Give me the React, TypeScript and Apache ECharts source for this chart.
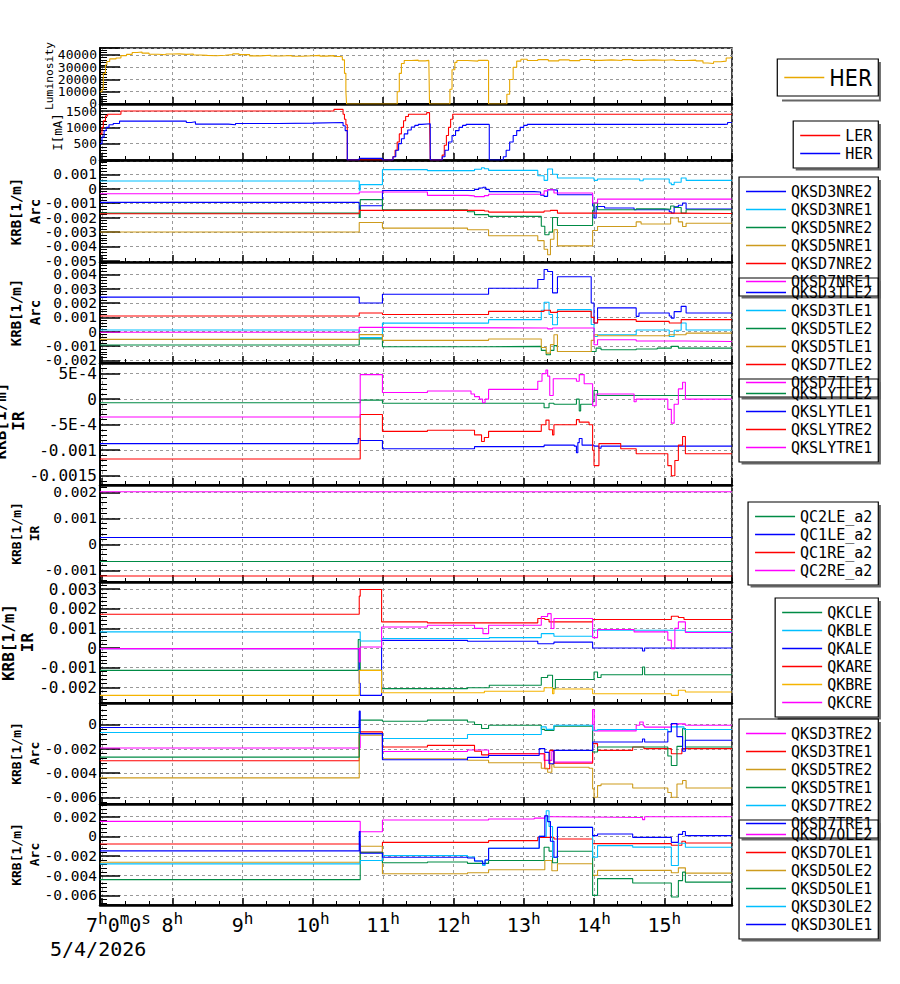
import React, { useEffect, useRef } from 'react';
import * as echarts from 'echarts';

// Time axis in hours of 5/4/2026 (7 = 07:00).
const T_MIN = 6.972;
const T_MAX = 15.963;
const HOUR_TICKS = [7, 8, 9, 10, 11, 12, 13, 14, 15];

// Luminosity (HER)
const luminosityHER = [
  [6.97, 10000], [7.0, 12000], [7.02, 25000], [7.05, 32000], [7.07, 34700], [7.11, 36800], [7.2, 37600],
  [7.27, 39500], [7.35, 40500], [7.43, 42000], [7.5, 42500], [7.57, 41500], [7.67, 40600], [7.8, 40200],
  [7.91, 40800], [8.0, 40900], [8.1, 40500], [8.2, 40800], [8.3, 40000], [8.39, 39700], [8.5, 39400],
  [8.63, 39800], [8.75, 40300], [8.86, 40900], [8.95, 40300], [9.1, 39300], [9.25, 39800], [9.4, 39200],
  [9.55, 39600], [9.7, 39000], [9.85, 39400], [10.0, 39700], [10.1, 39100], [10.2, 39500], [10.3, 38800],
  [10.38, 38500], [10.42, 36000], [10.45, 25000], [10.47, 10000], [10.48, 0], [11.18, 0], [11.2, 10000],
  [11.23, 25000], [11.26, 33000], [11.3, 35500], [11.4, 35800], [11.5, 35200], [11.6, 35600], [11.65, 35000],
  [11.66, 0], [11.92, 0], [11.95, 12000], [11.98, 28000], [12.02, 34000], [12.05, 35500], [12.2, 35000],
  [12.35, 35600], [12.49, 35200], [12.5, 0], [12.72, 0], [12.76, 8000], [12.8, 20000], [12.85, 30000],
  [12.9, 35000], [12.96, 36500], [13.05, 35500], [13.2, 36200], [13.35, 35200], [13.5, 36000], [13.65, 35400],
  [13.8, 36300], [13.95, 35600], [14.1, 36000], [14.25, 35500], [14.4, 36200], [14.55, 35600], [14.7, 36000],
  [14.85, 35700], [15.0, 36100], [15.15, 35500], [15.3, 35800], [15.45, 35200], [15.55, 33500], [15.62, 33000],
  [15.7, 34500], [15.8, 35000], [15.88, 37500], [15.93, 38000], [15.96, 38000],
];

// Beam currents [mA]
const currentLER = [
  [6.97, 800], [7.0, 1000], [7.02, 1200], [7.05, 1350], [7.08, 1400], [7.27, 1500], [10.3, 1550], [10.43, 1400],
  [10.45, 1250], [10.47, 1080], [10.49, 0], [11.14, 100], [11.17, 300], [11.2, 550], [11.23, 800], [11.26, 1000],
  [11.29, 1200], [11.32, 1330], [11.36, 1400], [11.62, 1450], [11.66, 1300], [11.67, 0], [11.84, 150],
  [11.87, 450], [11.9, 750], [11.93, 1000], [11.96, 1250], [11.99, 1400], [15.96, 1400],
];
const currentHER = [
  [6.97, 500], [7.0, 700], [7.03, 900], [7.06, 1000], [7.1, 1080], [7.16, 1120], [7.25, 1190], [8.15, 1190],
  [8.2, 1150], [8.27, 1170], [8.33, 1100], [8.75, 1100], [8.8, 1080], [8.9, 1120], [9.5, 1130], [10.0, 1150],
  [10.43, 1050], [10.46, 900], [10.49, 0], [10.66, 50], [10.99, 0], [11.14, 100], [11.18, 300], [11.22, 500],
  [11.26, 650], [11.3, 800], [11.35, 920], [11.4, 1010], [11.45, 1060], [11.5, 1090], [11.55, 1110], [11.67, 0],
  [11.84, 100], [11.88, 300], [11.93, 550], [11.98, 750], [12.03, 900], [12.08, 1000], [12.13, 1060],
  [12.18, 1090], [12.51, 0], [12.71, 100], [12.75, 300], [12.8, 550], [12.85, 750], [12.9, 900], [12.95, 1000],
  [13.0, 1060], [13.05, 1090], [15.85, 1100], [15.9, 1150], [15.96, 1150],
];

// KRB values below are in units of 1e-3 [1/m].
// Arc, NRE side
const QKSD3NRE2 = [
  [6.97, -0.95], [10.66, -1.46], [10.674, -1.18], [10.99, -0.12], [12.3, -0.05], [12.36, 0.05], [12.42, 0.1],
  [12.46, -0.05], [12.51, -0.2], [13.15, -0.23], [13.24, -0.45], [13.29, -0.53], [13.34, -0.07], [13.41, -0.1],
  [13.48, -0.42], [13.98, -1.2], [14.0, -2.03], [14.03, -1.23], [14.15, -1.34], [14.57, -1.46], [15.07, -1.6],
  [15.1, -1.69], [15.14, -1.25], [15.2, -1.15], [15.26, -0.99], [15.31, -1.41], [15.96, -1.41],
];
const QKSD3NRE1 = [
  [6.97, 0.53], [10.66, -0.1], [10.674, 0.28], [10.99, 1.32], [11.63, 1.25], [12.3, 1.35], [12.4, 1.45],
  [12.44, 1.38], [12.5, 1.27], [13.15, 1.27], [13.2, 0.9], [13.29, 0.58], [13.34, 1.37], [13.41, 1.0],
  [13.48, 0.74], [14.0, 0.58], [14.05, 0.67], [14.6, 0.67], [14.65, 0.55], [14.7, 0.67], [15.07, 0.4],
  [15.1, 0.28], [15.14, 0.45], [15.24, 0.74], [15.31, 0.58], [15.96, 0.58],
];
const QKSD5NRE2 = [
  [6.97, -1.69], [10.66, -2.0], [10.674, -0.76], [10.99, -1.46], [12.2, -1.6], [12.3, -1.8], [12.5, -1.92],
  [13.25, -2.6], [13.3, -3.19], [13.36, -3.0], [13.41, -2.0], [13.48, -2.55], [13.95, -2.55], [13.98, -1.5],
  [14.0, -0.99], [14.05, -1.46], [14.6, -1.4], [15.0, -1.42], [15.09, -1.2], [15.14, -1.3], [15.24, -1.69],
  [15.31, -1.46], [15.96, -1.46],
];
const QKSD5NRE1 = [
  [6.97, -3.0], [10.66, -2.34], [10.99, -2.73], [12.2, -2.85], [12.5, -3.26], [13.2, -3.6], [13.29, -4.2],
  [13.34, -4.58], [13.38, -3.5], [13.43, -2.85], [13.48, -3.96], [13.95, -3.96], [13.98, -2.9], [14.05, -2.62],
  [14.6, -2.3], [14.67, -2.45], [15.09, -2.03], [15.2, -2.3], [15.26, -2.62], [15.31, -2.39], [15.96, -2.39],
];
const QKSD7NRE2 = [
  [6.97, -1.74], [10.66, -1.5], [12.44, -1.55], [12.5, -1.62], [13.29, -1.55], [13.38, -1.5], [13.48, -1.69],
  [15.0, -1.72], [15.96, -1.72],
];
const QKSD7NRE1 = [
  [6.97, -0.35], [10.66, -0.23], [11.63, -0.46], [12.2, -0.5], [12.3, -0.55], [12.44, -0.48], [12.5, -0.38],
  [13.29, -0.15], [13.34, -0.07], [13.43, -0.3], [13.98, -0.99], [14.05, -0.72], [15.96, -0.72],
];

// Arc, TLE side
const QKSD3TLE2 = [
  [6.97, 2.41], [10.66, 2.0], [10.99, 2.61], [12.5, 3.03], [13.2, 3.64], [13.29, 4.34], [13.34, 4.2],
  [13.41, 2.71], [13.48, 3.83], [13.96, 2.0], [14.0, 0.61], [14.05, 1.66], [14.6, 1.07], [14.64, 1.31],
  [15.07, 1.1], [15.1, 0.95], [15.14, 1.4], [15.24, 1.77], [15.31, 1.31], [15.96, 1.31],
];
const QKSD3TLE1 = [
  [6.97, 0.12], [10.66, -0.4], [10.99, 0.6], [12.5, 0.84], [13.25, 1.5], [13.29, 2.05], [13.36, 1.2],
  [13.41, 0.49], [13.48, 1.54], [13.96, 0.5], [14.0, -0.33], [14.05, -0.21], [14.6, 0.12], [15.07, -0.33],
  [15.14, 0.1], [15.24, 0.61], [15.31, 0.12], [15.96, 0.12],
];
const QKSD5TLE2 = [
  [6.97, -0.93], [10.66, -0.5], [10.99, -1.05], [12.5, -1.02], [13.25, -1.3], [13.32, -1.6], [13.38, -1.3],
  [13.43, -0.97], [13.48, -1.38], [14.03, -1.14], [14.1, -1.26], [14.6, -1.2], [14.9, -1.14], [15.1, -1.02],
  [15.2, -1.14], [15.96, -1.14],
];
const QKSD5TLE1 = [
  [6.97, -0.53], [10.66, -0.2], [10.99, -0.6], [12.5, -0.51], [13.25, -1.1], [13.32, -1.49], [13.38, -0.9],
  [13.43, -0.21], [13.48, -1.38], [13.96, -0.6], [14.0, -0.21], [14.05, -0.28], [15.07, -0.21], [15.31, -0.1],
  [15.96, -0.1],
];
const QKSD7TLE2 = [
  [6.97, 1.1], [10.66, 1.3], [10.99, 1.2], [12.5, 1.42], [13.29, 1.5], [13.38, 1.35], [13.48, 1.42],
  [13.96, 1.0], [14.0, 0.61], [14.05, 0.84], [14.6, 0.72], [15.07, 0.61], [15.24, 0.84], [15.96, 0.84],
];
const QKSD7TLE1 = [
  [6.97, -0.04], [10.66, 0.3], [10.99, 0.26], [13.34, 0.2], [13.41, 0.26], [14.0, -0.91], [14.05, -0.56],
  [14.6, -0.65], [15.3, -0.68], [15.96, -0.68],
];

// IR, SLY correctors
const QKSLYTLE2 = [
  [6.97, -0.07], [10.674, -0.02], [10.99, -0.08], [13.29, -0.17], [13.36, -0.08], [13.43, -0.1], [13.75, 0.0],
  [13.79, -0.23], [13.81, -0.1], [13.98, -0.05], [14.0, 0.17], [14.05, 0.07], [15.96, 0.08],
];
const QKSLYTLE1 = [
  [6.97, -0.87], [10.646, -0.77], [10.674, -0.81], [10.99, -0.97], [12.3, -0.93], [13.29, -0.9], [13.72, -0.92],
  [13.75, -1.05], [13.77, -0.85], [13.79, -0.77], [13.83, -0.9], [14.0, -0.92], [14.07, -0.96], [14.1, -0.92],
  [15.96, -0.92],
];
const QKSLYTRE2 = [
  [6.97, -1.17], [10.674, -0.3], [10.99, -0.63], [11.63, -0.61], [12.3, -0.7], [12.4, -0.83], [12.44, -0.75],
  [12.5, -0.63], [13.25, -0.5], [13.316, -0.41], [13.36, -0.6], [13.41, -0.7], [13.43, -0.5], [13.75, -0.4],
  [13.79, -0.45], [13.93, -0.5], [13.98, -1.0], [14.0, -1.3], [14.07, -0.87], [14.38, -0.97], [14.6, -1.07],
  [15.05, -1.3], [15.1, -1.5], [15.15, -1.2], [15.2, -0.9], [15.26, -0.73], [15.3, -1.07], [15.96, -1.07],
];
const QKSLYTRE1 = [
  [6.97, -0.35], [10.674, 0.48], [10.99, 0.13], [11.63, 0.16], [12.25, 0.1], [12.3, 0.05], [12.37, 0.0],
  [12.415, -0.07], [12.45, 0.0], [12.5, 0.19], [13.2, 0.35], [13.26, 0.5], [13.316, 0.57], [13.34, 0.45],
  [13.37, 0.07], [13.42, 0.4], [13.75, 0.35], [13.79, 0.48], [13.86, 0.3], [13.98, -0.13], [14.03, 0.1],
  [14.57, -0.05], [14.6, 0.0], [15.05, -0.2], [15.1, -0.47], [15.14, -0.1], [15.2, 0.2], [15.26, 0.33],
  [15.3, 0.0], [15.96, 0.0],
];

// IR, QC a2 windings
const QC2LE_a2 = [[6.97, -0.66], [15.96, -0.66]];
const QC1LE_a2 = [[6.97, 0.26], [15.96, 0.26]];
const QC1RE_a2 = [[6.97, -1.22], [15.96, -1.22]];
const QC2RE_a2 = [[6.97, 2.02], [15.96, 2.02]];

// IR, QK correctors
const QKCLE = [
  [6.97, -1.14], [10.646, 0.43], [10.674, -1.14], [10.978, -2.07], [12.2, -2.02], [12.51, -1.9], [13.25, -1.5],
  [13.34, -1.39], [13.41, -2.07], [13.45, -1.6], [14.0, -1.22], [14.05, -1.5], [14.1, -1.36], [14.69, -0.97],
  [14.72, -1.36], [15.96, -1.34],
];
const QKBLE = [
  [6.97, 0.82], [10.674, 0.36], [10.978, 0.48], [12.51, 0.53], [13.25, 0.73], [13.43, 0.6], [13.98, 0.9],
  [15.3, 0.82], [15.96, 0.82],
];
const QKALE = [
  [6.97, -0.03], [10.66, -1.8], [10.674, -2.41], [10.978, 0.39], [12.2, 0.34], [13.2, 0.22], [13.43, 0.3],
  [13.98, 0.0], [14.69, -0.15], [14.72, 0.0], [15.96, 0.0],
];
const QKARE = [
  [6.97, 1.72], [10.66, 2.64], [10.674, 2.98], [10.978, 1.33], [11.63, 1.28], [13.2, 1.5], [13.3, 1.45],
  [13.36, 1.33], [13.98, 1.45], [15.1, 1.62], [15.2, 1.55], [15.28, 1.45], [15.96, 1.45],
];
const QKBRE = [
  [6.97, -2.41], [10.66, -1.14], [10.978, -2.28], [12.44, -2.2], [13.29, -2.02], [13.41, -2.33], [13.43, -2.09],
  [13.98, -2.33], [15.1, -2.41], [15.2, -2.15], [15.3, -2.24], [15.96, -2.24],
];
const QKCRE = [
  [6.97, -0.03], [10.66, -0.71], [10.674, 0.05], [10.978, 1.07], [11.63, 1.16], [12.3, 1.0], [12.42, 0.73],
  [12.5, 1.16], [13.25, 1.6], [13.34, 1.75], [13.39, 0.99], [13.43, 1.5], [13.98, 0.53], [14.05, 0.94],
  [14.57, 0.82], [15.05, 0.4], [15.1, -0.03], [15.15, 1.0], [15.2, 1.33], [15.3, 0.79], [15.96, 0.79],
];

// Arc, TRE side
const QKSD3TRE2 = [
  [6.97, -1.94], [10.674, -0.75], [10.99, -2.22], [12.2, -2.1], [12.5, -2.41], [13.29, -2.96], [13.4, -2.22],
  [13.43, -3.1], [13.98, 1.24], [14.003, -0.53], [14.6, -0.06], [14.65, 0.2], [14.7, -0.1], [14.72, -0.22],
  [15.1, 0.05], [15.3, -0.06], [15.96, -0.06],
];
const QKSD3TRE1 = [
  [6.97, -2.99], [10.66, -0.61], [10.99, -1.86], [11.63, -1.72], [12.3, -2.2], [12.4, -2.5], [12.5, -2.41],
  [13.3, -3.65], [13.37, -2.13], [13.43, -3.19], [13.98, -1.58], [14.05, -2.13], [14.55, -1.86], [14.71, -1.99],
  [15.1, -2.41], [15.25, -1.99], [15.96, -1.99],
];
const QKSD5TRE2 = [
  [6.97, -4.4], [10.66, -0.89], [10.99, -2.82], [12.2, -2.95], [12.5, -3.15], [13.25, -3.6], [13.34, -3.93],
  [13.4, -3.3], [13.43, -3.52], [13.93, -3.6], [13.98, -5.3], [14.0, -6.0], [14.05, -5.04], [14.1, -4.9],
  [14.55, -5.23], [15.05, -5.6], [15.1, -6.0], [15.18, -4.9], [15.26, -4.62], [15.31, -5.23], [15.96, -5.23],
];
const QKSD5TRE1 = [
  [6.97, -2.69], [10.66, 0.36], [10.99, 0.27], [11.63, 0.36], [12.2, 0.2], [12.3, 0.0], [12.4, -0.33],
  [12.5, -0.06], [13.25, -0.4], [13.3, -0.5], [13.43, -0.15], [13.98, -2.27], [14.05, -1.86], [15.05, -2.6],
  [15.1, -3.38], [15.18, -1.8], [15.26, -0.33], [15.3, -1.86], [15.96, -1.86],
];
const QKSD7TRE2 = [
  [6.97, -0.66], [10.674, -0.75], [10.99, -1.16], [12.2, -0.83], [13.25, -0.2], [13.32, -0.4], [13.43, -0.06],
  [13.98, -0.47], [14.05, -0.41], [15.05, -0.6], [15.1, -0.2], [15.28, -0.41], [15.96, -0.41],
];
const QKSD7TRE1 = [
  [6.97, -0.25], [10.66, 1.1], [10.674, -0.75], [10.99, -2.9], [12.2, -2.71], [12.5, -2.55], [13.22, -1.99],
  [13.3, -2.3], [13.36, -3.24], [13.43, -2.13], [13.98, -1.44], [14.69, -1.2], [14.72, -1.44], [15.05, -0.6],
  [15.1, 0.08], [15.18, -1.0], [15.26, -2.2], [15.3, -1.3], [15.96, -1.3],
];

// Arc, OLE side
const QKSD7OLE2 = [
  [6.97, 1.52], [10.674, 0.47], [10.99, 1.66], [12.5, 1.76], [13.15, 1.85], [13.3, 2.1], [13.34, 1.99],
  [13.43, 1.92], [14.69, 1.7], [14.72, 1.99], [15.96, 1.99],
];
const QKSD7OLE1 = [
  [6.97, -0.77], [10.674, -1.62], [10.99, -0.61], [12.5, -0.43], [13.2, -0.1], [13.43, -0.27], [13.98, -0.74],
  [15.1, -0.9], [15.25, -0.5], [15.3, -0.67], [15.96, -0.67],
];
const QKSD5OLE2 = [
  [6.97, -2.64], [10.674, -1.01], [10.99, -3.8], [12.2, -3.7], [12.5, -3.39], [13.3, -2.45], [13.4, -3.5],
  [13.48, -2.79], [13.98, -3.97], [14.05, -3.46], [15.1, -3.7], [15.2, -3.2], [15.3, -3.74], [15.96, -3.74],
];
const QKSD5OLE1 = [
  [6.97, -4.4], [10.674, -1.62], [10.99, -2.69], [11.63, -2.6], [12.2, -2.75], [12.5, -2.45], [13.29, -1.11],
  [13.36, -1.5], [13.41, -2.69], [13.48, -1.52], [13.98, -6.0], [14.05, -4.3], [14.55, -4.74], [15.1, -6.16],
  [15.2, -4.5], [15.26, -3.64], [15.3, -4.65], [15.96, -4.65],
];
const QKSD3OLE2 = [
  [6.97, -2.8], [10.674, -2.45], [10.99, -1.95], [12.2, -2.1], [12.3, -2.5], [12.415, -2.96], [12.45, -2.4],
  [12.5, -1.21], [13.22, 0.0], [13.32, 2.6], [13.36, 1.0], [13.41, -2.12], [13.48, 0.91], [13.98, -2.12],
  [14.05, -0.94], [14.55, -1.1], [15.1, -2.96], [15.2, -0.7], [15.3, -1.11], [15.96, -1.11],
];
const QKSD3OLE1 = [
  [6.97, -1.48], [10.66, 0.5], [10.674, -1.72], [10.99, -2.12], [12.2, -2.2], [12.3, -2.5], [12.415, -2.8],
  [12.45, -2.4], [12.5, -1.21], [13.22, 0.0], [13.3, 2.09], [13.34, 1.5], [13.38, -0.5], [13.43, -2.12],
  [13.48, 0.91], [13.98, 0.07], [14.05, 0.24], [14.55, -0.1], [15.1, -0.61], [15.2, 0.2], [15.26, 0.5],
  [15.3, 0.07], [15.96, 0.07],
];

const BLUE = '#0000ff';
const CYAN = '#00bfff';
const GREEN = '#008b45';
const GOLD = '#cd9b1d';
const RED = '#ff0000';
const MAGENTA = '#ff00ff';
const LUMI = '#e8a800';
const ORANGE = '#f5b400';

const MONO = "'DejaVu Sans Mono', monospace";
const NARROW = "'Liberation Sans Narrow', 'DejaVu Sans Condensed', 'DejaVu Sans', sans-serif";

const milli = (pts: number[][]) => pts.map(([t, v]) => [t, v / 1000]);

type Line = [string, number[][], string];
interface Panel {
  top: number; height: number; min: number; max: number; step: number; font: number;
  names: [string, number, number, string][]; nameY?: number; legendTop: number; lines: Line[];
}

const PANELS: Panel[] = [
  {
    top: 48, height: 56, min: -1, max: 45700, step: 10000, font: 13, legendTop: 59,
    names: [['Luminosity', 49, 11.3, 'normal']],
    lines: [['HER', luminosityHER, LUMI]],
  },
  {
    top: 104, height: 56, min: 0, max: 1715, step: 500, font: 13, legendTop: 121,
    names: [['I[mA]', 57, 12.5, 'normal']],
    lines: [['LER', currentLER, RED], ['HER', currentHER, BLUE]],
  },
  {
    top: 161, height: 101, min: -5.08e-3, max: 1.92e-3, step: 1e-3, font: 14.5, legendTop: 177,
    names: [['KRB[1/m]', 16, 14, 'bold'], ['Arc', 34.5, 14, 'bold']],
    lines: [
      ['QKSD3NRE2', milli(QKSD3NRE2), BLUE], ['QKSD3NRE1', milli(QKSD3NRE1), CYAN],
      ['QKSD5NRE2', milli(QKSD5NRE2), GREEN], ['QKSD5NRE1', milli(QKSD5NRE1), GOLD],
      ['QKSD7NRE2', milli(QKSD7NRE2), RED], ['QKSD7NRE1', milli(QKSD7NRE1), MAGENTA],
    ],
  },
  {
    top: 262, height: 101, min: -2.18e-3, max: 4.86e-3, step: 1e-3, font: 14.5, legendTop: 278,
    names: [['KRB[1/m]', 16, 14, 'bold'], ['Arc', 34.5, 14, 'bold']],
    lines: [
      ['QKSD3TLE2', milli(QKSD3TLE2), BLUE], ['QKSD3TLE1', milli(QKSD3TLE1), CYAN],
      ['QKSD5TLE2', milli(QKSD5TLE2), GREEN], ['QKSD5TLE1', milli(QKSD5TLE1), GOLD],
      ['QKSD7TLE2', milli(QKSD7TLE2), RED], ['QKSD7TLE1', milli(QKSD7TLE1), MAGENTA],
    ],
  },
  {
    top: 363, height: 122, min: -1.68e-3, max: 0.707e-3, step: 5e-4, font: 16, legendTop: 379, nameY: 421,
    names: [['KRB[1/m]', 0.5, 16, 'bold'], ['IR', 18, 16, 'bold']],
    lines: [
      ['QKSLYTLE2', milli(QKSLYTLE2), GREEN], ['QKSLYTLE1', milli(QKSLYTLE1), BLUE],
      ['QKSLYTRE2', milli(QKSLYTRE2), RED], ['QKSLYTRE1', milli(QKSLYTRE1), MAGENTA],
    ],
  },
  {
    top: 485, height: 97, min: -1.45e-3, max: 2.28e-3, step: 1e-3, font: 14.5, legendTop: 502,
    names: [['KRB[1/m]', 16.7, 13, 'bold'], ['IR', 34, 13, 'bold']],
    lines: [
      ['QC2LE_a2', milli(QC2LE_a2), GREEN], ['QC1LE_a2', milli(QC1LE_a2), BLUE],
      ['QC1RE_a2', milli(QC1RE_a2), RED], ['QC2RE_a2', milli(QC2RE_a2), MAGENTA],
    ],
  },
  {
    top: 582, height: 121, min: -2.8e-3, max: 3.36e-3, step: 1e-3, font: 16, legendTop: 598,
    names: [['KRB[1/m]', 8.3, 16, 'bold'], ['IR', 27.5, 16, 'bold']],
    lines: [
      ['QKCLE', milli(QKCLE), GREEN], ['QKBLE', milli(QKBLE), CYAN], ['QKALE', milli(QKALE), BLUE],
      ['QKARE', milli(QKARE), RED], ['QKBRE', milli(QKBRE), ORANGE], ['QKCRE', milli(QKCRE), MAGENTA],
    ],
  },
  {
    top: 703, height: 101, min: -6.55e-3, max: 1.77e-3, step: 2e-3, font: 14.5, legendTop: 719,
    names: [['KRB[1/m]', 16.7, 13, 'bold'], ['Arc', 34, 13, 'bold']],
    lines: [
      ['QKSD3TRE2', milli(QKSD3TRE2), MAGENTA], ['QKSD3TRE1', milli(QKSD3TRE1), RED],
      ['QKSD5TRE2', milli(QKSD5TRE2), GOLD], ['QKSD5TRE1', milli(QKSD5TRE1), GREEN],
      ['QKSD7TRE2', milli(QKSD7TRE2), CYAN], ['QKSD7TRE1', milli(QKSD7TRE1), BLUE],
    ],
  },
  {
    top: 804, height: 101, min: -6.98e-3, max: 3.29e-3, step: 2e-3, font: 14.5, legendTop: 820,
    names: [['KRB[1/m]', 16.7, 13, 'bold'], ['Arc', 34, 13, 'bold']],
    lines: [
      ['QKSD7OLE2', milli(QKSD7OLE2), MAGENTA], ['QKSD7OLE1', milli(QKSD7OLE1), RED],
      ['QKSD5OLE2', milli(QKSD5OLE2), GOLD], ['QKSD5OLE1', milli(QKSD5OLE1), GREEN],
      ['QKSD3OLE2', milli(QKSD3OLE2), CYAN], ['QKSD3OLE1', milli(QKSD3OLE1), BLUE],
    ],
  },
];

// Tick label text: only multiples of the step, small values in E notation.
const tickFormatter = (step: number) => (v: number) => {
  const q = v / step;
  if (Math.abs(q - Math.round(q)) > 1e-6) return '';
  if (Math.abs(v) < step * 1e-6) return '0';
  const a = Math.abs(v);
  if (a < 1e-3) {
    const e = Math.floor(Math.log10(a) + 1e-9);
    const m = parseFloat((v / Math.pow(10, e)).toPrecision(4));
    return `${m}E${e}`;
  }
  return String(parseFloat(v.toPrecision(6)));
};

const GRID_LEFT = 100;
const GRID_WIDTH = 632;
const LEGEND_RIGHT = 878.3;
const DASH = { color: '#999', type: [3, 3], width: 1 };

// Drop shadow along the right and bottom edges of a legend box.
function legendShadow(left: number, top: number, bottom: number) {
  return {
    type: 'polyline', silent: true, z: -1,
    shape: { points: [[LEGEND_RIGHT + 1.6, top + 3], [LEGEND_RIGHT + 1.6, bottom + 1.6], [left + 3, bottom + 1.6]] },
    style: { stroke: '#666', lineWidth: 2, fill: null },
  };
}

function buildOption() {
  const grid: any[] = [];
  const xAxis: any[] = [];
  const yAxis: any[] = [];
  const series: any[] = [];
  const legend: any[] = [];
  const graphic: any[] = [];

  PANELS.forEach((p, i) => {
    grid.push({
      left: GRID_LEFT, width: GRID_WIDTH, top: p.top, height: p.height,
      show: true, borderColor: '#000', borderWidth: 1.5, backgroundColor: 'transparent',
      containLabel: false, outerBoundsMode: 'none',
    });
    xAxis.push({
      type: 'value', gridIndex: i, min: T_MIN, max: T_MAX, minInterval: 1, maxInterval: 1, splitNumber: 9,
      axisLine: { show: true, onZero: false, lineStyle: { color: '#000', width: 2.5 } },
      axisTick: { show: true, inside: true, length: 7, lineStyle: { color: '#000', width: 1.5 } },
      minorTick: { show: true, splitNumber: 3, length: 4, lineStyle: { color: '#000', width: 1 } },
      axisLabel: { show: false },
      splitLine: { show: true, lineStyle: DASH },
    });
    yAxis.push({
      type: 'value', gridIndex: i, min: p.min, max: p.max, minInterval: p.step, maxInterval: p.step,
      splitNumber: Math.round((p.max - p.min) / p.step),
      axisLine: { show: true, onZero: false, lineStyle: { color: '#000', width: 2 } },
      axisTick: { show: true, inside: true, length: 20, lineStyle: { color: '#000', width: 1.5 } },
      minorTick: { show: true, splitNumber: 5, length: 7, lineStyle: { color: '#000', width: 1 } },
      axisLabel: {
        show: true, margin: 3, color: '#000', fontFamily: MONO, fontSize: p.font,
        formatter: tickFormatter(p.step), showMinLabel: true, showMaxLabel: true, hideOverlap: false,
      },
      splitLine: { show: true, lineStyle: DASH },
    });
    p.lines.forEach(([name, data, color]) => {
      series.push({
        type: 'line', name, xAxisIndex: i, yAxisIndex: i, data, step: 'end',
        symbol: 'none', showSymbol: false, silent: true, color,
        lineStyle: { color, width: 1.1 }, itemStyle: { color, borderColor: color },
      });
    });

    const big = i === 0;
    const n = p.lines.length;
    legend.push({
      show: true, orient: 'vertical', align: 'left', right: 900 - LEGEND_RIGHT, top: p.legendTop,
      itemWidth: 40, itemHeight: 1.3, itemGap: 3, padding: [7, 6, 7, 7], icon: 'rect',
      borderColor: '#000', borderWidth: 1.2, backgroundColor: 'transparent', selectedMode: false,
      itemStyle: { borderWidth: 0 },
      textStyle: {
        color: '#000', fontFamily: big ? NARROW : MONO, fontSize: big ? 23 : 15,
      },
      data: p.lines.map(([name, , color]) => ({
        name, icon: 'rect', itemStyle: { color, borderColor: color, borderWidth: 0, opacity: 1 },
      })),
    });
    if (big) {
      graphic.push(legendShadow(779, p.legendTop, p.legendTop + 40));
    } else {
      const chars = Math.max(...p.lines.map((l) => l[0].length));
      const w = 13.5 + 45 + chars * 9.03;
      graphic.push(legendShadow(LEGEND_RIGHT - w, p.legendTop, p.legendTop + 14 + n * 15 + (n - 1) * 3));
    }

    const cy = p.nameY ?? p.top + p.height / 2;
    p.names.forEach(([text, cx, size, weight]) => {
      graphic.push({
        type: 'text', x: cx, y: cy, rotation: Math.PI / 2, silent: true,
        style: {
          text, fill: '#000', fontFamily: MONO, fontSize: size, fontWeight: weight,
          align: 'center', verticalAlign: 'middle', textAlign: 'center', textVerticalAlign: 'middle',
        },
      });
    });
  });

  return {
    animation: false,
    backgroundColor: '#fff',
    grid, xAxis, yAxis, series, legend, graphic,
  };
}

// Hour labels under the last panel: large digits with superscript unit letters.
function hourLabels(chart: echarts.ECharts) {
  const last = PANELS.length - 1;
  const MAIN = 20;
  const SUP = 16;
  const mainW = MAIN * 0.602;
  const supW = SUP * 0.602;
  const yMain = 925;
  const ySup = 918;
  const els: any[] = [];
  const txt = (text: string, x: number, size: number, y: number) => ({
    type: 'text', x, y, silent: true,
    style: {
      text, fill: '#000', fontFamily: MONO, fontSize: size,
      align: 'left', verticalAlign: 'middle', textAlign: 'left', textVerticalAlign: 'middle',
    },
  });
  HOUR_TICKS.forEach((h) => {
    const px = chart.convertToPixel({ xAxisIndex: last }, h) as number;
    if (h === HOUR_TICKS[0]) {
      let x = px - 16;
      const parts: [string, boolean][] = [[String(h), false], ['h', true], ['0', false], ['m', true], ['0', false], ['s', true]];
      parts.forEach(([s, sup]) => {
        els.push(txt(s, x, sup ? SUP : MAIN, sup ? ySup : yMain));
        x += s.length * (sup ? supW : mainW);
      });
    } else {
      const num = String(h);
      const w = num.length * mainW + supW;
      const left = px - w / 2;
      els.push(txt(num, left, MAIN, yMain));
      els.push(txt('h', left + num.length * mainW, SUP, ySup));
    }
  });
  els.push(txt('5/4/2026', 50, MAIN, 949));
  return els;
}

export default function App() {
  const ref = useRef<HTMLDivElement>(null);
  useEffect(() => {
    if (!ref.current) return;
    const chart = echarts.init(ref.current, undefined, { renderer: 'svg' });
    const option: any = buildOption();
    chart.setOption(option);
    chart.setOption({ graphic: [...option.graphic, ...hourLabels(chart)] });
    return () => chart.dispose();
  }, []);
  return (
    <div
      ref={ref}
      style={{ position: 'fixed', left: 0, top: 0, width: 900, height: 984, background: '#fff' }}
    />
  );
}
